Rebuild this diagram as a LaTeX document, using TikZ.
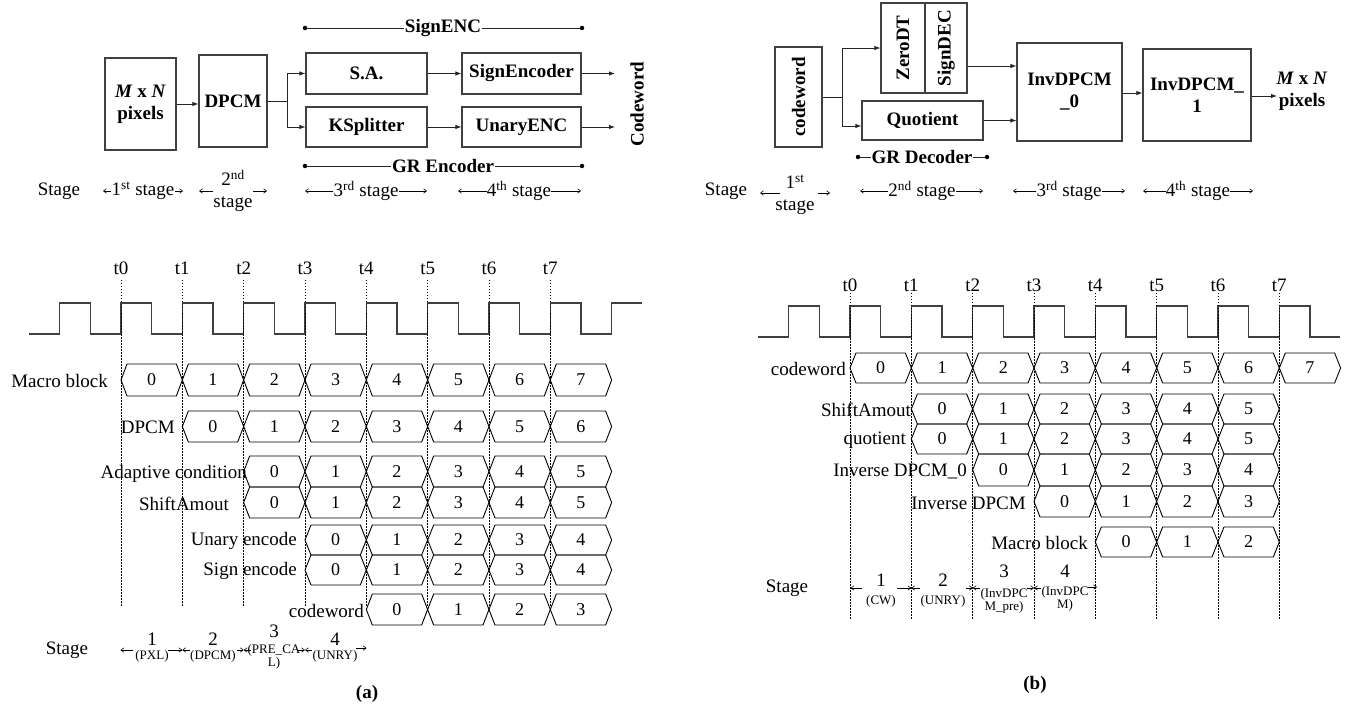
\documentclass[tikz,border=0pt]{standalone}
\usepackage{fontspec}
\setmainfont{Liberation Serif}
\usetikzlibrary{arrows.meta}
\newcommand\fnorm{\fontsize{19}{22}\selectfont}
\newcommand\fval{\fontsize{18}{21}\selectfont}
\newcommand\fsml{\fontsize{13}{11}\selectfont}
\newcommand\hexrow[6]{%
  \foreach \k in {0,...,#6}{%
    \pgfmathsetmacro\xa{#2+61.33*(#5+\k)}%
    \pgfmathsetmacro\xb{\xa+61.33}%
    \pgfmathsetmacro\xm{(\xa+\xb)/2}%
    \pgfmathsetmacro\ym{(#3+#4)/2}%
    \draw[cell] (\xa,\ym) -- (\xa+6,#3) -- (\xb-6,#3) -- (\xb,\ym) -- (\xb-6,#4) -- (\xa+6,#4) -- cycle;
    \node[val] (#1\k) at (\xm,\ym) {\k};
  }}
\begin{document}
\begin{tikzpicture}[x=1pt,y=-1pt,
  blk/.style={draw=black!75, line width=1.1pt, font=\fnorm\bfseries, align=center, inner sep=0pt},
  arr/.style={line width=0.9pt, draw=black!85, -{Latex[length=6pt,width=4.5pt]}},
  ln/.style={line width=0.9pt, draw=black!85},
  stg/.style={line width=0.6pt, -{Straight Barb[length=3pt,width=4.5pt]}},
  txt/.style={font=\fnorm, inner sep=0pt},
  btxt/.style={font=\fnorm\bfseries, inner sep=0pt, align=center},
  lab/.style={font=\fnorm, inner sep=0pt},
  val/.style={font=\fval, inner sep=0pt},
  num/.style={font=\fnorm, inner sep=0pt},
  sml/.style={font=\fsml, inner sep=0pt, align=center},
  cell/.style={line width=0.9pt, draw=black},
  clk/.style={line width=1.2pt, draw=black!75},
  dotl/.style={line width=0.9pt, dash pattern=on 1.5pt off 1.5pt},
  dotend/.style={circle, fill=black, inner sep=0pt, minimum size=4.5pt}]
\useasboundingbox (0,0) rectangle (1348,708);

% ================= (a) block diagram =================
\node[blk, minimum width=71pt, minimum height=92pt] (mn) at (140.5,104) {\textit{M} x \textit{N}\\pixels};
\node[blk, minimum width=68pt, minimum height=92pt] (dpcm) at (233,101) {DPCM};
\node[blk, minimum width=121pt, minimum height=41pt] (sa) at (366.5,73.5) {S.A.};
\node[blk, minimum width=121pt, minimum height=40pt] (ks) at (366.5,127) {KSplitter};
\node[blk, minimum width=119pt, minimum height=41pt] (se) at (521.5,73.5) {SignEncoder};
\node[blk, minimum width=119pt, minimum height=40pt] (ue) at (521.5,127) {UnaryENC};
\node[btxt, rotate=90] (cwo) at (637,104) {Codeword};
\coordinate (br) at (287,101);
\coordinate (seo) at (615,73.5);
\coordinate (ueo) at (615,127);
\draw[arr] (mn.east |- 0,104) -- (dpcm.west |- 0,104);
\draw[ln] (dpcm.east) -- (br);
\draw[arr] (br) |- (sa.west);
\draw[arr] (br) |- (ks.west);
\draw[arr] (sa.east) -- (se.west);
\draw[arr] (ks.east) -- (ue.west);
\draw[arr] (se.east) -- (seo);
\draw[arr] (ue.east) -- (ueo);
% SignENC / GR Encoder spans
\node[dotend] (sg1) at (305,28) {};
\node[dotend] (sg2) at (582,28) {};
\draw[ln] (sg1) -- (sg2);
\node[btxt, fill=white, inner xsep=1pt] (sgt) at (443,28) {SignENC};
\node[dotend] (gr1) at (305,166) {};
\node[dotend] (gr2) at (582,166) {};
\draw[ln] (gr1) -- (gr2);
\node[btxt, fill=white, inner xsep=1pt] (grt) at (443,166) {GR Encoder};
% stage row
\node[txt] (stA) at (59,191) {Stage};
\node[txt] (a1) at (143,191) {1\textsuperscript{st} stage};
\draw[stg] (a1.west) -- (103,191);
\draw[stg] (a1.east) -- (183,191);
\node[txt, align=center] (a2) at (233,191) {2\textsuperscript{nd}\\stage};
\draw[stg] (213,191) -- (199,191);
\draw[stg] (253,191) -- (267,191);
\node[txt] (a3) at (366,191) {3\textsuperscript{rd} stage};
\draw[stg] (a3.west) -- (305,191);
\draw[stg] (a3.east) -- (427,191);
\node[txt] (a4) at (519,191) {4\textsuperscript{th} stage};
\draw[stg] (a4.west) -- (458,191);
\draw[stg] (a4.east) -- (581,191);

% ================= (b) block diagram =================
\node[blk, minimum width=47pt, minimum height=100pt] (cw) at (798.5,97) {};
\node[btxt, rotate=90] (cwt) at (cw.center) {codeword};
\node[blk, minimum width=44pt, minimum height=90pt] (zd) at (903,48) {};
\node[btxt, rotate=90] (zdt) at (zd.center) {ZeroDT};
\node[blk, minimum width=42pt, minimum height=90pt] (sd) at (946,48) {};
\node[btxt, rotate=90] (sdt) at (sd.center) {SignDEC};
\node[blk, minimum width=121pt, minimum height=39pt] (qt) at (922.5,120.5) {Quotient};
\node[blk, minimum width=105pt, minimum height=98pt] (i0) at (1069.5,92) {InvDPCM\\\_0};
\node[blk, minimum width=108pt, minimum height=92pt] (i1) at (1197,95) {InvDPCM\_\\1};
\node[btxt] (mno) at (1302,91) {\textit{M} x \textit{N}\\pixels};
\coordinate (br2) at (842,97);
\coordinate (i1o) at (1277,96);
\draw[ln] (cw.east) -- (br2);
\draw[arr] (br2) |- (zd.west);
\draw[arr] (br2) |- ([yshift=-5.5pt]qt.west);
\draw[arr] ([yshift=-18pt]sd.east) -- ([yshift=-18pt]sd.east -| i0.west);
\draw[arr] (qt.east) -- (qt.east -| i0.west);
\draw[arr] (i0.east |- 0,93) -- (i1.west |- 0,93);
\draw[arr] (i1.east |- 0,96) -- (i1o);
\node[dotend] (gd1) at (858,157) {};
\node[dotend] (gd2) at (987,157) {};
\draw[ln] (gd1) -- (gd2);
\node[btxt, fill=white, inner xsep=1pt] (gdt) at (922,157) {GR Decoder};
% stage row
\node[txt] (stB) at (726,191) {Stage};
\node[txt, align=center] (b1) at (795,195) {1\textsuperscript{st}\\stage};
\draw[stg] (780,193) -- (760,193);
\draw[stg] (818,193) -- (830,193);
\node[txt] (b2) at (922,191) {2\textsuperscript{nd} stage};
\draw[stg] (b2.west) -- (860,191);
\draw[stg] (b2.east) -- (983,191);
\node[txt] (b3) at (1069,191) {3\textsuperscript{rd} stage};
\draw[stg] (b3.west) -- (1013,191);
\draw[stg] (b3.east) -- (1125,191);
\node[txt] (b4) at (1198,191) {4\textsuperscript{th} stage};
\draw[stg] (b4.west) -- (1143,191);
\draw[stg] (b4.east) -- (1253,191);

% ================= (a) timing =================
\draw[clk] (29,334) foreach \k in {-1,...,7}{ -- ({121+61.33*\k},334) -- ({121+61.33*\k},303) -- ({151.67+61.33*\k},303) -- ({151.67+61.33*\k},334) } -- (611.6,334) -- (611.6,303) -- (642,303);
\foreach \k in {0,...,7}{
  \pgfmathsetmacro\xt{121+61.33*\k}
  \draw[dotl] (\xt,280) -- (\xt,607);
  \node[lab] (lt\k) at (\xt,268) {t\k};
}
\hexrow{lmb}{121}{364}{396}{0}{7}
\hexrow{ldp}{121}{411}{442}{1}{6}
\hexrow{lac}{121}{456}{487}{2}{5}
\hexrow{lsa}{121}{487}{518}{2}{5}
\hexrow{lue}{121}{525}{555}{3}{4}
\hexrow{lse}{121}{555}{585}{3}{4}
\hexrow{lcw}{121}{594}{625}{4}{3}
\node[lab, anchor=east] (Lmb) at (108,381) {Macro block};
\node[lab, anchor=east] (Ldp) at (175,427) {DPCM};
\node[lab, anchor=east] (Lac) at (247,474) {Adaptive condition};
\node[lab, anchor=east] (Lsa) at (229,504) {ShiftAmout};
\node[lab, anchor=east] (Lue) at (297,541) {Unary encode};
\node[lab, anchor=east] (Lse) at (297,571) {Sign encode};
\node[lab, anchor=east] (Lcw) at (364,611) {codeword};
% stage row
\node[txt] (Ls) at (67,650) {Stage};
\draw[stg] (133,650) -- (120.5,650);
\draw[stg] (168,650) -- (182.3,650);
\draw[stg] (190,650) -- (182.3,650);
\draw[stg] (237,650) -- (243.7,650);
\draw[stg] (250.5,650) -- (243.7,650);
\draw[stg] (298,650) -- (305,650);
\draw[stg] (312,650) -- (305,650);
\draw[stg] (356,648) -- (366.5,648);
\node[num] (Ls1) at (152,639) {1};
\node[sml] (Ls1l) at (152,656) {(PXL)};
\node[num] (Ls2) at (213,639) {2};
\node[sml] (Ls2l) at (213,656) {(DPCM)};
\node[num] (Ls3) at (274,631) {3};
\node[sml] (Ls3l) at (274,657) {(PRE\_CA\\L)};
\node[num] (Ls4) at (335,639) {4};
\node[sml] (Ls4l) at (335,656) {(UNRY)};
\node[btxt] (capa) at (367,694) {(a)};

% ================= (b) timing =================
\draw[clk] (758,337) foreach \k in {-1,...,7}{ -- ({850+61.33*\k},337) -- ({850+61.33*\k},306) -- ({880.67+61.33*\k},306) -- ({880.67+61.33*\k},337) } -- (1340,337);
\foreach \k in {0,...,7}{
  \pgfmathsetmacro\xt{850+61.33*\k}
  \draw[dotl] (\xt,293) -- (\xt,620);
  \node[lab] (rt\k) at (\xt,285) {t\k};
}
\hexrow{rcw}{850}{353}{383}{0}{7}
\hexrow{rsa}{850}{394}{424}{1}{5}
\hexrow{rqt}{850}{424}{454}{1}{5}
\hexrow{ri0}{850}{454}{486}{2}{4}
\hexrow{rid}{850}{486}{517}{3}{3}
\hexrow{rmb}{850}{527}{557}{4}{2}
\node[lab, anchor=east] (Rcw) at (846,369) {codeword};
\node[lab, anchor=east] (Rsa) at (911,410) {ShiftAmout};
\node[lab, anchor=east] (Rqt) at (906,440) {quotient};
\node[lab, anchor=east] (Ri0) at (967,471) {Inverse DPCM\_0};
\node[lab, anchor=east] (Rid) at (1026,503) {Inverse DPCM};
\node[lab, anchor=east] (Rmb) at (1088,543) {Macro block};
% stage row
\node[txt] (Rs) at (787,588) {Stage};
\draw[stg] (862,588) -- (850.5,588);
\draw[stg] (897,588) -- (911.3,588);
\draw[stg] (920,588) -- (911.3,588);
\draw[stg] (966,588) -- (972.7,588);
\draw[stg] (980,588) -- (972.7,588);
\draw[stg] (1027,588) -- (1034,588);
\draw[stg] (1041,588) -- (1034,588);
\draw[stg] (1088,587) -- (1097,587);
\node[num] (Rs1) at (881,580) {1};
\node[sml] (Rs1l) at (881,601) {(CW)};
\node[num] (Rs2) at (943,580) {2};
\node[sml] (Rs2l) at (943,601) {(UNRY)};
\node[num] (Rs3) at (1004,571) {3};
\node[sml] (Rs3l) at (1004,601) {(InvDPC\\M\_pre)};
\node[num] (Rs4) at (1065,571) {4};
\node[sml] (Rs4l) at (1065,599) {(InvDPC\\M)};
\node[btxt] (capb) at (1035,685) {(b)};
\end{tikzpicture}
\end{document}
